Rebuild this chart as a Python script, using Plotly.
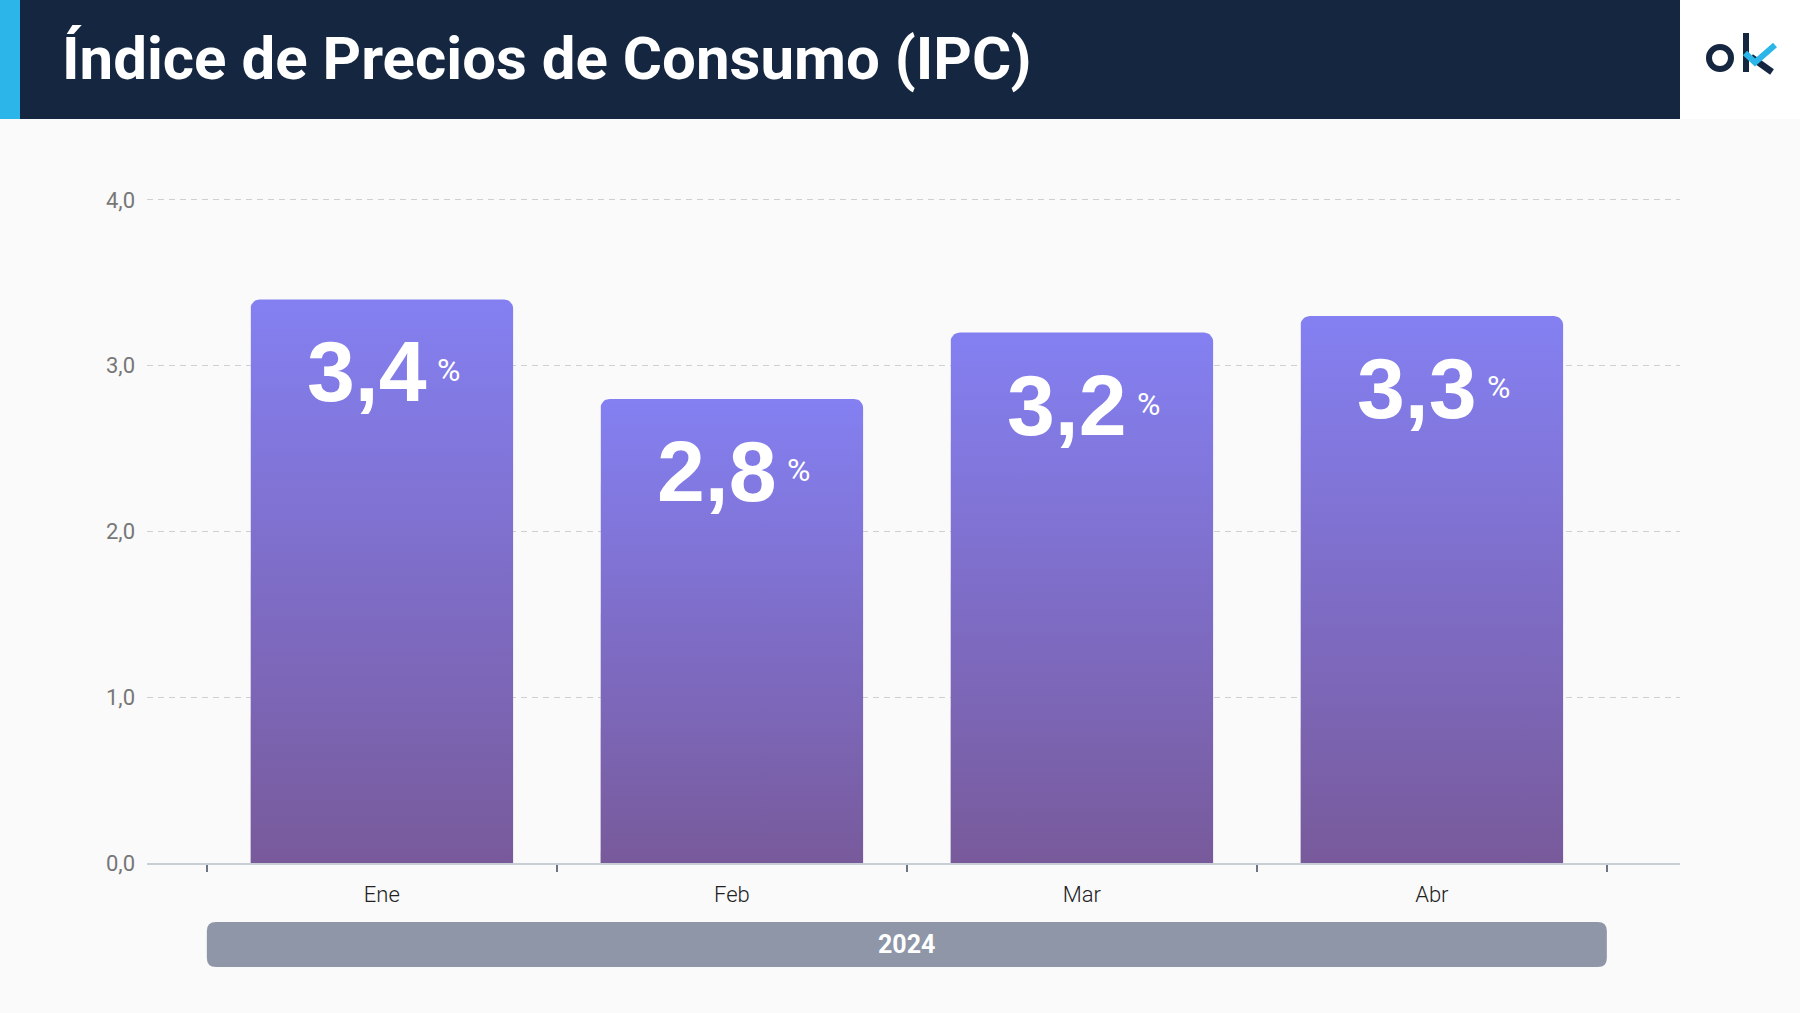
import numpy as np
import plotly.graph_objects as go

# ---------------- data ----------------
months = ["Ene", "Feb", "Mar", "Abr"]
ipc_values = [3.4, 2.8, 3.2, 3.3]
year_group = "2024"
y_tick_values = [0, 1, 2, 3, 4]
title_text = "Índice de Precios de Consumo (IPC)"

# ---------------- layout geometry (pixels) ----------------
W, H = 1800, 1013
px_per_y = 165.75
y_range = [0, 4.03]
ML, MR, MB = 147, 120, 150
MT = round(200 - (y_range[1] - 4) * px_per_y)
PW, PH = W - ML - MR, H - MT - MB
x_range = [-0.671, len(months) - 1 + 0.709]
px_per_x = PW / (x_range[1] - x_range[0])

NAVY = "#152641"
CYAN = "#2bb5e8"
BG = "#fafafa"
BAR_TOP = "#8480f2"
BAR_BOT = "#785a9b"


def px_x(px):
    return (px - ML) / PW


def px_y(py):
    return (H - MB - py) / PH


def bar_outline(i, v, width=0.75, r_px=9, n=8):
    rx, ry = r_px / px_per_x, r_px / px_per_y
    x0, x1 = i - width / 2, i + width / 2
    xs, ys = [x0, x0], [0, v - ry]
    for a in np.linspace(np.pi, np.pi / 2, n):
        xs.append(x0 + rx + rx * np.cos(a))
        ys.append(v - ry + ry * np.sin(a))
    for a in np.linspace(np.pi / 2, 0, n):
        xs.append(x1 - rx + rx * np.cos(a))
        ys.append(v - ry + ry * np.sin(a))
    xs += [x1, x0]
    ys += [0, 0]
    return xs, ys


fig = go.Figure()

for i, (m, v) in enumerate(zip(months, ipc_values)):
    xs, ys = bar_outline(i, v)
    fig.add_trace(go.Scatter(
        x=xs, y=ys, mode="lines", fill="toself", name=m,
        line=dict(width=0, color="rgba(0,0,0,0)"),
        fillgradient=dict(type="vertical", start=0, stop=v,
                          colorscale=[[0, BAR_BOT], [1, BAR_TOP]]),
        hoverinfo="skip", showlegend=False,
    ))

annotations = []
for i, v in enumerate(ipc_values):
    label = f"{v:.1f}".replace(".", ",")
    annotations.append(dict(
        x=i, y=v, xref="x", yref="y", text=label, showarrow=False,
        xanchor="right", yanchor="middle", xshift=47, yshift=-72,
        font=dict(family="Liberation Sans, Arial, sans-serif", size=86,
                  color="white", weight="bold"),
    ))
    annotations.append(dict(
        x=i, y=v, xref="x", yref="y", text="%", showarrow=False,
        xanchor="left", yanchor="middle", xshift=53, yshift=-71,
        font=dict(family="Roboto, sans-serif", size=32, color="white"),
    ))

# group band label
annotations.append(dict(
    x=(len(months) - 1) / 2, y=px_y(944), xref="x", yref="paper",
    text=year_group, showarrow=False, xanchor="center", yanchor="middle",
    font=dict(family="Roboto, sans-serif", size=25, color="white", weight="bold"),
))

shapes = []
# header
shapes.append(dict(type="rect", xref="paper", yref="paper", x0=px_x(0), x1=px_x(1680),
                   y0=px_y(119), y1=px_y(0), fillcolor=NAVY, line=dict(width=0), layer="below"))
shapes.append(dict(type="rect", xref="paper", yref="paper", x0=px_x(0), x1=px_x(20),
                   y0=px_y(119), y1=px_y(0), fillcolor=CYAN, line=dict(width=0), layer="below"))
shapes.append(dict(type="rect", xref="paper", yref="paper", x0=px_x(1680), x1=px_x(1800),
                   y0=px_y(119), y1=px_y(0), fillcolor="white", line=dict(width=0), layer="below"))
# logo "ok"
shapes.append(dict(type="circle", xref="paper", yref="paper", x0=px_x(1709), x1=px_x(1731),
                   y0=px_y(69), y1=px_y(47), line=dict(color=NAVY, width=6)))
shapes.append(dict(type="line", xref="paper", yref="paper", x0=px_x(1746), x1=px_x(1746),
                   y0=px_y(33), y1=px_y(72), line=dict(color=NAVY, width=6)))
shapes.append(dict(type="line", xref="paper", yref="paper", x0=px_x(1751), x1=px_x(1772),
                   y0=px_y(57), y1=px_y(72), line=dict(color=NAVY, width=6.5)))
shapes.append(dict(type="path", xref="paper", yref="paper",
                   path=f"M {px_x(1745)} {px_y(53)} L {px_x(1755)} {px_y(62.5)} L {px_x(1775)} {px_y(45)}",
                   line=dict(color=CYAN, width=6)))

# year band with rounded corners
bx0, bx1 = -0.5, len(months) - 0.5
by0, by1 = px_y(967), px_y(922)
rx, ry = 9 / px_per_x, 9 / PH
band_path = (f"M {bx0 + rx} {by1} L {bx1 - rx} {by1} Q {bx1} {by1} {bx1} {by1 - ry} "
             f"L {bx1} {by0 + ry} Q {bx1} {by0} {bx1 - rx} {by0} L {bx0 + rx} {by0} "
             f"Q {bx0} {by0} {bx0} {by0 + ry} L {bx0} {by1 - ry} Q {bx0} {by1} {bx0 + rx} {by1} Z")
shapes.append(dict(type="path", xref="x", yref="paper", path=band_path,
                   fillcolor="#8e96a8", line=dict(width=0), layer="below"))

fig.update_layout(
    width=W, height=H,
    margin=dict(l=ML, r=MR, t=MT, b=MB, pad=0),
    paper_bgcolor=BG, plot_bgcolor=BG,
    separators=",.",
    showlegend=False,
    title=dict(text=title_text, xref="container", yref="container",
               x=62 / W, xanchor="left", y=1 - 58 / H, yanchor="middle",
               font=dict(family="Roboto, sans-serif", size=60, color="white", weight="bold")),
    xaxis=dict(
        range=x_range, tickmode="array", tickvals=list(range(len(months))), ticktext=months,
        ticks="", showgrid=False, zeroline=False, showline=True, linecolor="#c9cdd6", linewidth=2,
        layer="below traces", ticklabelstandoff=11,
        tickfont=dict(family="Roboto, sans-serif", size=22, color="#222222", weight=300),
        minor=dict(tickmode="array", tickvals=[k - 0.5 for k in range(len(months) + 1)],
                   ticks="outside", ticklen=7, tickwidth=2, tickcolor="#6b7586", showgrid=False),
        fixedrange=True,
    ),
    yaxis=dict(
        range=y_range, tickmode="array", tickvals=y_tick_values, tickformat=".1f",
        ticks="", showgrid=True, gridcolor="#cfcfcf", gridwidth=1, griddash="6px,5px",
        zeroline=False, showline=False, layer="below traces", ticklabelstandoff=11,
        tickfont=dict(family="Roboto, sans-serif", size=22, color="#777777"),
        fixedrange=True,
    ),
    shapes=shapes,
    annotations=annotations,
)

fig.write_html("out.html", config={"displayModeBar": False},
               post_script="document.body.style.margin='0';document.body.style.overflow='hidden';")
